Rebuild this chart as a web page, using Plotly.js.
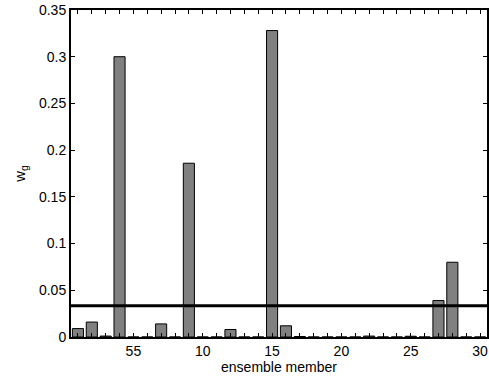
<!DOCTYPE html>
<html>
<head>
<meta charset="utf-8">
<script src="https://cdn.plot.ly/plotly-3.0.1.min.js"></script>
<style>html,body{margin:0;padding:0;background:#fff;}#chart{width:489px;height:383px;}</style>
</head>
<body>
<div id="chart"></div>
<script>
const members = [1,2,3,4,5,6,7,8,9,10,11,12,13,14,15,16,17,18,19,20,21,22,23,24,25,26,27,28,29,30];
const weights = [0.009,0.016,0.001,0.300,0,0,0.014,0,0.186,0,0,0.008,0,0,0.328,0.012,0.0005,0,0,0,0,0.001,0,0,0.0008,0,0.039,0.080,0,0];
const threshold = 1/30;
const xTickVals = [5,10,15,20,25,30];
const xTickText = ["55","10","15","20","25","30"];
const yTickVals = [0,0.05,0.1,0.15,0.2,0.25,0.3,0.35];
const yTickText = ["0","0.05","0.1","0.15","0.2","0.25","0.3","0.35"];

const font = {family: "Liberation Sans, Arial, sans-serif", size: 14, color: "#000"};

const traces = [
  {type: "bar", x: members, y: weights, width: 0.8,
   marker: {color: "#808080", line: {color: "#000", width: 1}}, hoverinfo: "skip"},
  {type: "scatter", mode: "lines", x: [0.5, 30.5], y: [threshold, threshold],
   line: {color: "#000", width: 3}, hoverinfo: "skip"}
];

const layout = {
  width: 489, height: 383,
  margin: {l: 71, r: 2, t: 10, b: 46},
  paper_bgcolor: "#fff", plot_bgcolor: "#fff",
  showlegend: false,
  font: font,
  xaxis: {
    range: [0.5, 30.5], showgrid: false, zeroline: false,
    tickmode: "array", tickvals: xTickVals, ticktext: xTickText,
    ticks: "inside", ticklen: 4, tickcolor: "#000",
    minor: {tickmode: "linear", tick0: 1, dtick: 1, ticks: "inside", ticklen: 4, tickcolor: "#000", showgrid: false},
    showline: true, linecolor: "#000", linewidth: 2, mirror: "ticks",
    title: {text: "ensemble member", font: font, standoff: 0},
    tickfont: font
  },
  yaxis: {
    range: [0, 0.35], showgrid: false, zeroline: false,
    tickmode: "array", tickvals: yTickVals, ticktext: yTickText,
    ticks: "inside", ticklen: 4, tickcolor: "#000",
    showline: true, linecolor: "#000", linewidth: 2, mirror: "ticks",
    title: {text: "w<sub>g</sub>", font: {family: font.family, size: 15, color: "#000"}, standoff: 10},
    tickfont: font
  }
};

Plotly.newPlot("chart", traces, layout, {displayModeBar: false, staticPlot: true});
</script>
</body>
</html>
